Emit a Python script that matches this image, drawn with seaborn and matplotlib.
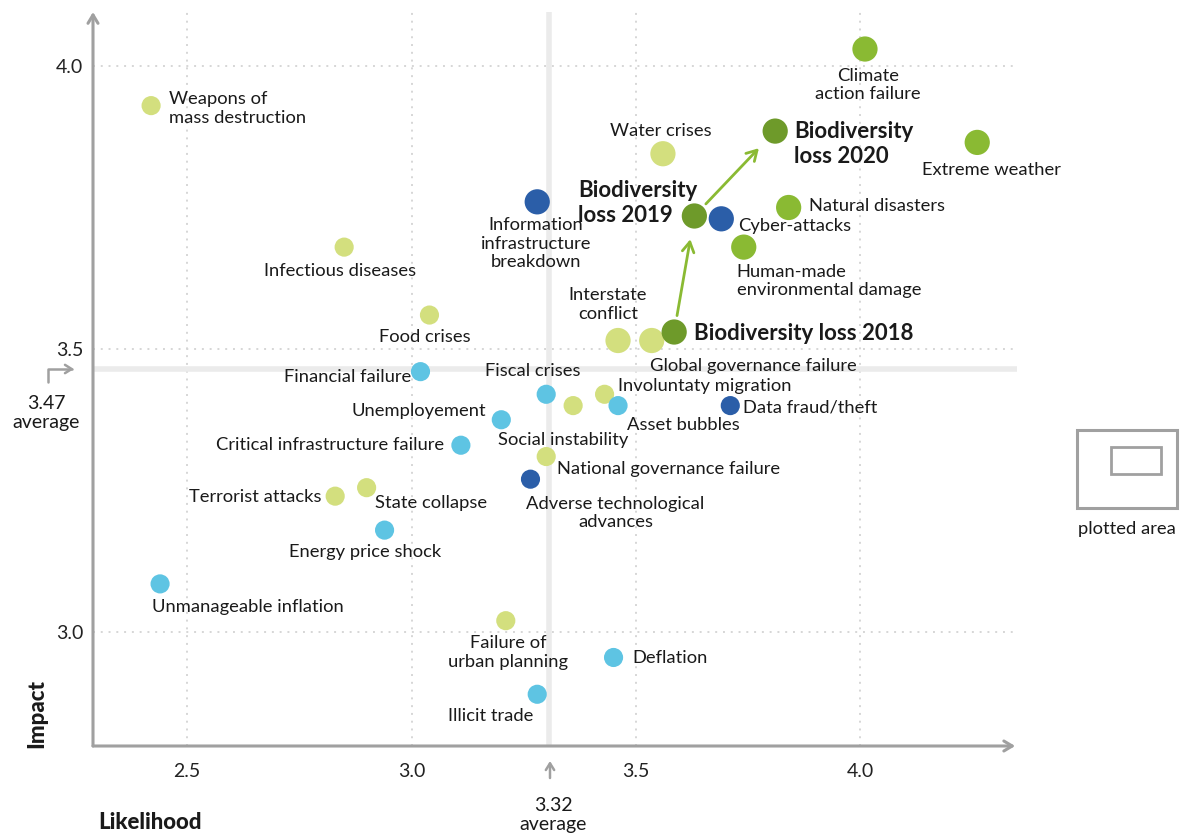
import pandas as pd
import seaborn as sns
import matplotlib.pyplot as plt
from matplotlib.patches import Rectangle


labels = [
    'Weapons of\nmass destruction', 'Infectious diseases', 'Food crises',
    'Financial failure', 'Unemployement', 'Critical infrastructure failure',
    'Terrorist attacks', 'State collapse', 'Energy price shock',
    'Unmanageable inflation', 'Failure of\nurban planning', 'Illicit trade',
    'Deflation', 'Fiscal crises', 'Social instability', 'Involuntaty migration',
    'Asset bubbles', 'National governance failure',
    'Adverse technological\nadvances', 'Data fraud/theft',
    'Interstate\nconflict', 'Global governance failure',
    'Biodiversity loss 2018', 'Biodiversity\nloss 2019', 'Cyber-attacks',
    'Human-made\nenvironmental damage', 'Natural disasters',
    'Biodiversity\nloss 2020', 'Water crises',
    'Information\ninfrastructure\nbreakdown', 'Climate\naction failure',
    'Extreme weather',
]
likelihood = [
    2.42, 2.85, 3.04, 3.02, 3.20, 3.11, 2.83, 2.90, 2.94, 2.44, 3.21, 3.28,
    3.45, 3.30, 3.36, 3.43, 3.46, 3.30, 3.265, 3.71, 3.46, 3.535, 3.585,
    3.63, 3.69, 3.74, 3.84, 3.81, 3.56, 3.28, 4.01, 4.26,
]
impact = [
    3.93, 3.68, 3.56, 3.46, 3.375, 3.33, 3.24, 3.255, 3.18, 3.085, 3.02, 2.89,
    2.955, 3.42, 3.40, 3.42, 3.40, 3.31, 3.27, 3.40, 3.515, 3.515, 3.53,
    3.735, 3.73, 3.68, 3.75, 3.885, 3.845, 3.76, 4.03, 3.865,
]
group = [
    'Geopolitical', 'Societal', 'Societal', 'Economic', 'Economic', 'Economic',
    'Geopolitical', 'Geopolitical', 'Economic', 'Economic', 'Societal',
    'Economic', 'Economic', 'Economic', 'Societal', 'Societal', 'Economic',
    'Geopolitical', 'Technological', 'Technological', 'Geopolitical',
    'Geopolitical', 'Biodiversity', 'Biodiversity', 'Technological',
    'Environmental', 'Environmental', 'Biodiversity', 'Societal',
    'Technological', 'Environmental', 'Environmental',
]
top_risk = [False] * 20 + [True] * 12

avg_likelihood = 3.307
avg_impact = 3.465
avg_likelihood_text = '3.32'
avg_impact_text = '3.47'

# label placement: pixel offset from the dot and alignment
layout = [
    (18, 3, 'left'), (-4, 24, 'center'), (-5, 22, 'center'), (-9, 5, 'right'),
    (-15, -9, 'right'), (-17, 0, 'right'), (-14, 1, 'right'), (8, 15, 'left'),
    (-19, 22, 'center'), (-8, 23, 'left'), (2, 32, 'center'), (-4, 22, 'right'),
    (19, 1, 'left'), (-13, -23, 'center'), (-10, 34, 'center'), (13, -8, 'left'),
    (9, 19, 'left'), (11, 12, 'left'), (85, 34, 'center'), (13, 2, 'left'),
    (-10, -36, 'center'), (-2, 25, 'left'), (20, 1, 'left'), (3, -13, 'right'),
    (17, 7, 'left'), (-7, 34, 'left'), (20, -1, 'left'), (19, 13, 'left'),
    (-2, -23, 'center'), (-1, 42, 'center'), (3, 36, 'center'), (14, 28, 'center'),
]

palette = {
    'Economic': '#5ec4e3',
    'Environmental': '#8aba33',
    'Geopolitical': '#d3df7e',
    'Societal': '#d3df7e',
    'Technological': '#2b5ea8',
    'Biodiversity': '#6e9a2a',
}

df = pd.DataFrame({'label': labels, 'likelihood': likelihood, 'impact': impact,
                   'group': group, 'top': top_risk})

sns.set_theme(style='white')
plt.rcParams['font.family'] = ['Lato', 'DejaVu Sans']
plt.rcParams['text.color'] = '#1a1a1a'

W, H = 1182, 838
fig, ax = plt.subplots(figsize=(W / 100, H / 100), dpi=100)
ax.set_position([93 / W, (H - 746) / H, (1017 - 93) / W, (746 - 12) / H])

ax.axvline(avg_likelihood, color='#ebebeb', lw=4, zorder=1)
ax.axhline(avg_impact, color='#ebebeb', lw=4, zorder=1)

sns.scatterplot(data=df, x='likelihood', y='impact', hue='group', palette=palette,
                size='top', sizes={False: 190, True: 330}, linewidth=0,
                legend=False, ax=ax, zorder=3)

for i, row in df.iterrows():
    dx, dy, ha = layout[i]
    bold = row['group'] == 'Biodiversity'
    ax.annotate(row['label'], (row['likelihood'], row['impact']),
                xytext=(dx, -dy), textcoords='offset pixels',
                ha=ha, va='center', multialignment='center' if ha == 'center' else 'left',
                fontsize=16 if bold else 13.2,
                fontweight='bold' if bold else 'normal',
                linespacing=1.2, zorder=4)

# arrows for the biodiversity path
bio = df[df['group'] == 'Biodiversity']
for a, b in zip(bio.index[:-1], bio.index[1:]):
    ax.annotate('', xy=(df.loc[b, 'likelihood'], df.loc[b, 'impact']),
                xytext=(df.loc[a, 'likelihood'], df.loc[a, 'impact']),
                arrowprops=dict(arrowstyle='->,head_length=0.6,head_width=0.35',
                                color='#8aba33', lw=2, shrinkA=12, shrinkB=17),
                zorder=2)

ax.set_xlim(2.2906, 4.3486)
ax.set_ylim(2.7986, 4.0954)
ax.set_xticks([2.5, 3.0, 3.5, 4.0])
ax.set_yticks([3.0, 3.5, 4.0])
ax.set_xticklabels(['2.5', '3.0', '3.5', '4.0'])
ax.set_yticklabels(['3.0', '3.5', '4.0'])
ax.tick_params(axis='x', length=0, pad=12, labelsize=14, labelcolor='#222222')
ax.tick_params(axis='y', length=0, pad=7, labelsize=14, labelcolor='#222222')
ax.grid(True, color='#d6d6d6', linestyle=(0, (1, 3)), lw=1.4, zorder=0)
ax.set_xlabel('')
ax.set_ylabel('')
for s in ax.spines.values():
    s.set_visible(False)

axis_arrow = dict(arrowstyle='->,head_length=0.5,head_width=0.3', color='#a0a0a0',
                  lw=2.2, shrinkA=0, shrinkB=0)
ax.annotate('', xy=(0, 1), xytext=(0, 0), xycoords='axes fraction', arrowprops=axis_arrow)
ax.annotate('', xy=(0.998, 0), xytext=(0, 0), xycoords='axes fraction', arrowprops=axis_arrow)

# average markers
small_arrow = dict(arrowstyle='->,head_length=0.4,head_width=0.25', color='#a0a0a0',
                   lw=1.8, shrinkA=0, shrinkB=0)
ax.annotate('', xy=(74, H - 369), xytext=(48, H - 382), xycoords='figure pixels',
            arrowprops=dict(small_arrow, connectionstyle='angle,angleA=90,angleB=0,rad=0'))
fig.text(46 / W, (H - 413) / H, f'{avg_impact_text}\naverage', ha='center', va='center',
         fontsize=14, linespacing=1.15)
ax.annotate('', xy=(550, H - 761), xytext=(550, H - 778), xycoords='figure pixels',
            arrowprops=small_arrow)
fig.text(553 / W, (H - 815) / H, f'{avg_likelihood_text}\naverage', ha='center', va='center',
         fontsize=14, linespacing=1.15)

fig.text(37 / W, (H - 748) / H, 'Impact', rotation=90, ha='center', va='bottom',
         fontsize=16, fontweight='black')
fig.text(98 / W, (H - 822) / H, 'Likelihood', ha='left', va='center',
         fontsize=16, fontweight='black')

# plotted area key
fig.add_artist(Rectangle((1077 / W, (H - 508) / H), 100 / W, 78 / H, transform=fig.transFigure,
                         fill=False, ec='#a0a0a0', lw=2.2))
fig.add_artist(Rectangle((1111 / W, (H - 474) / H), 50 / W, 27 / H, transform=fig.transFigure,
                         fill=False, ec='#a0a0a0', lw=2.0))
fig.text(1127 / W, (H - 529) / H, 'plotted area', ha='center', va='center', fontsize=13.2)

fig.savefig('out.png', dpi=100)
